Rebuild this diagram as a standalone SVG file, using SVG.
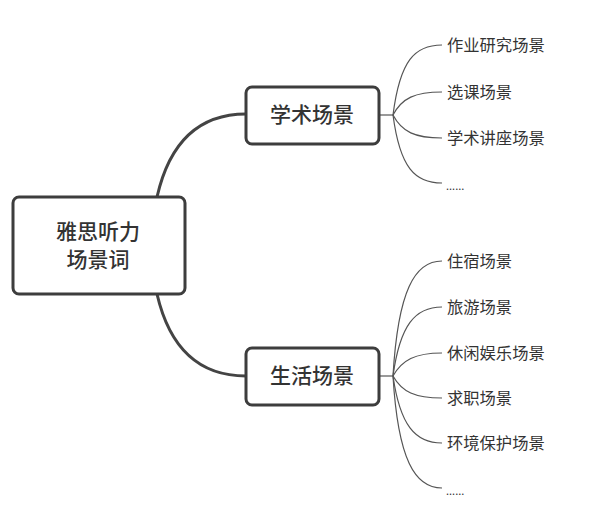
<svg xmlns="http://www.w3.org/2000/svg" width="604" height="509" viewBox="0 0 604 509">
<style>
.box{fill:#fff;stroke:#3d3d3d;stroke-width:3}
.main{fill:none;stroke:#444;stroke-width:3}
.thin{fill:none;stroke:#555;stroke-width:1.2}
.t{font-family:"Noto Sans CJK SC","Liberation Sans",sans-serif;fill:#333}
.big{font-size:21px;font-weight:500;text-anchor:middle}
.leaf{font-size:16.3px}
.dots{font-size:11px}
</style>
<rect width="604" height="509" fill="#fff"/>
<g id="connectors">
<path class="main" d="M157,197 C170,140 200,114 246,114"/>
<path class="main" d="M157,294 C170,350 200,376 246,376"/>
<path class="thin" d="M379,115 H393"/>
<path class="thin" d="M393,115 C400,60 415,45 442,45"/>
<path class="thin" d="M393,115 C402,98 415,92 442,92"/>
<path class="thin" d="M393,115 C402,132 415,138 442,138"/>
<path class="thin" d="M393,115 C400,168 415,183 442,183"/>
<path class="thin" d="M379,376 H393"/>
<path class="thin" d="M393,376 C398,290 415,261 442,261"/>
<path class="thin" d="M393,376 C400,325 415,307 442,307"/>
<path class="thin" d="M393,376 C402,360 415,353 442,353"/>
<path class="thin" d="M393,376 C402,392 415,398 442,398"/>
<path class="thin" d="M393,376 C400,425 415,443 442,443"/>
<path class="thin" d="M393,376 C398,460 415,488 442,488"/>
</g>
<g id="root"><rect class="box" x="13" y="197" width="172" height="97" rx="6"/>
<text class="t big" x="98" y="239">雅思听力</text><text class="t big" x="98" y="267">场景词</text></g>
<g id="academic"><rect class="box" x="246" y="87" width="133" height="57" rx="6"/>
<text class="t big" x="312" y="122">学术场景</text></g>
<g id="life"><rect class="box" x="246" y="348" width="133" height="57" rx="6"/>
<text class="t big" x="312" y="383">生活场景</text></g>
<g id="a1"><text class="t leaf" x="447" y="51">作业研究场景</text></g>
<g id="a2"><text class="t leaf" x="447" y="98">选课场景</text></g>
<g id="a3"><text class="t leaf" x="447" y="144">学术讲座场景</text></g>
<g id="a4"><text class="t dots" x="446" y="190">......</text></g>
<g id="l1"><text class="t leaf" x="447" y="267">住宿场景</text></g>
<g id="l2"><text class="t leaf" x="447" y="313">旅游场景</text></g>
<g id="l3"><text class="t leaf" x="447" y="359">休闲娱乐场景</text></g>
<g id="l4"><text class="t leaf" x="447" y="404">求职场景</text></g>
<g id="l5"><text class="t leaf" x="447" y="449">环境保护场景</text></g>
<g id="l6"><text class="t dots" x="446" y="495">......</text></g>
</svg>
